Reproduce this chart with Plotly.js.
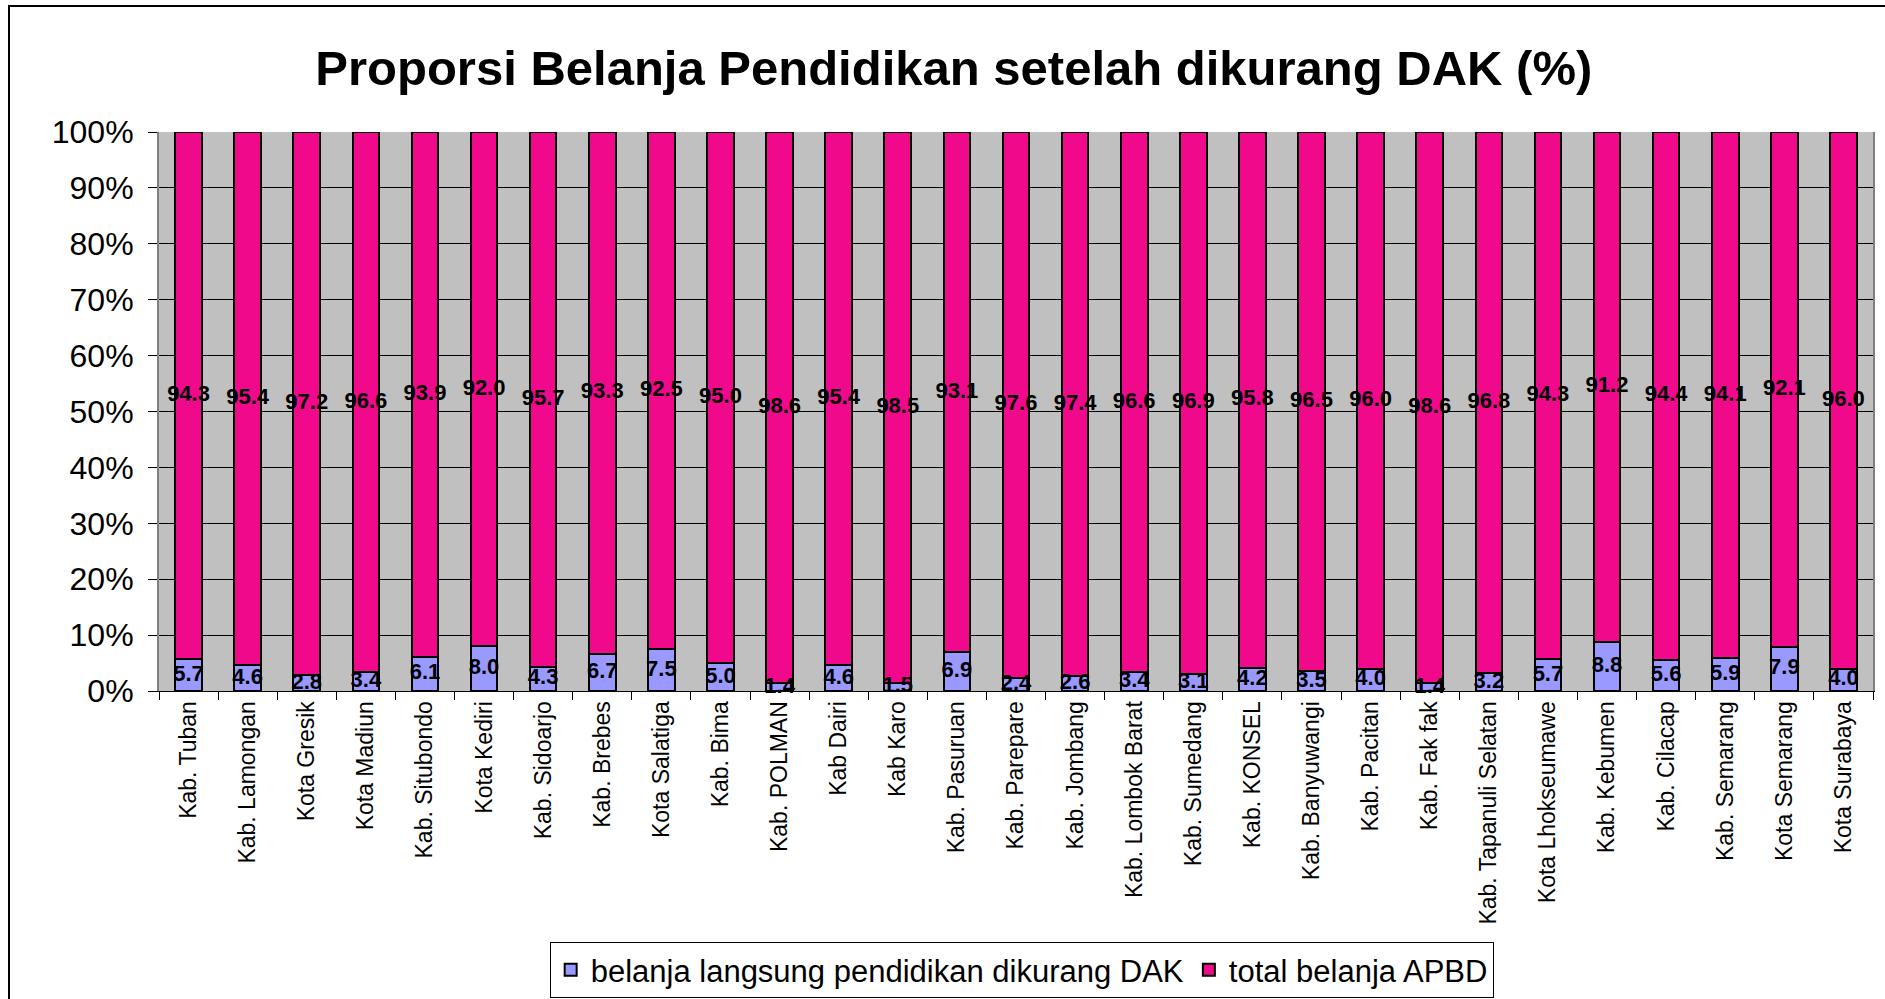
<!DOCTYPE html>
<html>
<head>
<meta charset="utf-8">
<script src="https://cdn.plot.ly/plotly-3.0.1.min.js"></script>
<style>
  html, body { margin: 0; padding: 0; background: #ffffff; overflow: hidden; }
  #chart { width: 1885px; height: 999px; }
  #frame { position: absolute; left: 8px; top: 5px; width: 3000px; height: 3000px;
           border-left: 2px solid #000; border-top: 2px solid #000; pointer-events: none; }
</style>
</head>
<body>
<div id="chart"></div>
<div id="frame"></div>
<script>
const categories = [
  "Kab. Tuban", "Kab. Lamongan", "Kota Gresik", "Kota Madiun", "Kab. Situbondo",
  "Kota Kediri", "Kab. Sidoarjo", "Kab. Brebes", "Kota Salatiga", "Kab. Bima",
  "Kab. POLMAN", "Kab Dairi", "Kab Karo", "Kab. Pasuruan", "Kab. Parepare",
  "Kab. Jombang", "Kab. Lombok Barat", "Kab. Sumedang", "Kab. KONSEL", "Kab. Banyuwangi",
  "Kab. Pacitan", "Kab. Fak fak", "Kab. Tapanuli Selatan", "Kota Lhokseumawe", "Kab. Kebumen",
  "Kab. Cilacap", "Kab. Semarang", "Kota Semarang", "Kota Surabaya"
];
const belanjaLangsung = [
  5.7, 4.6, 2.8, 3.4, 6.1, 8.0, 4.3, 6.7, 7.5, 5.0,
  1.4, 4.6, 1.5, 6.9, 2.4, 2.6, 3.4, 3.1, 4.2, 3.5,
  4.0, 1.4, 3.2, 5.7, 8.8, 5.6, 5.9, 7.9, 4.0
];
const totalBelanja = [
  94.3, 95.4, 97.2, 96.6, 93.9, 92.0, 95.7, 93.3, 92.5, 95.0,
  98.6, 95.4, 98.5, 93.1, 97.6, 97.4, 96.6, 96.9, 95.8, 96.5,
  96.0, 98.6, 96.8, 94.3, 91.2, 94.4, 94.1, 92.1, 96.0
];
const yTicks = [0, 10, 20, 30, 40, 50, 60, 70, 80, 90, 100];

const FONT = "Liberation Sans, Arial, sans-serif";
const labelFont = { family: FONT, size: 22, color: "#000000", weight: "bold" };

const traces = [
  {
    type: "bar",
    name: "belanja langsung pendidikan dikurang DAK",
    x: categories,
    y: belanjaLangsung,
    marker: { color: "#9999FF", line: { color: "#000000", width: 2 } },
    textposition: "none",
    hoverinfo: "x+y"
  },
  {
    type: "bar",
    name: "total belanja APBD",
    x: categories,
    y: totalBelanja,
    marker: { color: "#F0098A", line: { color: "#000000", width: 2 } },
    textposition: "none",
    hoverinfo: "x+y"
  },
  {
    type: "scatter",
    mode: "text",
    x: categories,
    y: belanjaLangsung.map(v => v / 2),
    text: belanjaLangsung.map(v => v.toFixed(1)),
    textposition: "middle center",
    textfont: labelFont,
    cliponaxis: false,
    showlegend: false,
    hoverinfo: "skip"
  },
  {
    type: "scatter",
    mode: "text",
    x: categories,
    y: totalBelanja.map((v, i) => belanjaLangsung[i] + v / 2),
    text: totalBelanja.map(v => v.toFixed(1)),
    textposition: "middle center",
    textfont: labelFont,
    cliponaxis: false,
    showlegend: false,
    hoverinfo: "skip"
  }
];

const layout = {
  width: 1885,
  height: 999,
  margin: { l: 159, r: 12, t: 132, b: 308 },
  paper_bgcolor: "#ffffff",
  plot_bgcolor: "#C0C0C0",
  barmode: "stack",
  bargap: 0.55,
  font: { family: FONT, color: "#000000" },
  title: {
    text: "Proporsi Belanja Pendidikan setelah dikurang DAK (%)",
    font: { family: FONT, size: 49, color: "#000000", weight: "bold" },
    x: 0.506, xref: "container", xanchor: "center",
    y: 0.932, yref: "container", yanchor: "middle"
  },
  xaxis: {
    type: "category",
    range: [-0.5, categories.length - 0.5],
    autorange: false,
    automargin: false,
    tickangle: -90,
    tickfont: { family: FONT, size: 23, color: "#000000" },
    ticks: "outside",
    tickson: "boundaries",
    ticklen: 8,
    ticklabelstandoff: 0,
    tickcolor: "#000000",
    showline: true,
    linecolor: "#000000",
    linewidth: 1,
    showgrid: false,
    zeroline: false,
    fixedrange: true
  },
  yaxis: {
    range: [0, 100],
    autorange: false,
    automargin: false,
    tickvals: yTicks,
    ticktext: yTicks.map(v => v + "%"),
    tickfont: { family: FONT, size: 32, color: "#000000" },
    ticks: "outside",
    ticklen: 9,
    ticklabelstandoff: 8,
    tickcolor: "#000000",
    showline: true,
    linecolor: "#808080",
    linewidth: 2,
    mirror: true,
    showgrid: true,
    gridcolor: "#000000",
    gridwidth: 1,
    zeroline: false,
    fixedrange: true
  },
  showlegend: true,
  legend: {
    orientation: "h",
    xref: "container", yref: "container",
    x: 0.542, xanchor: "center",
    y: 0.057, yanchor: "top",
    bgcolor: "#ffffff",
    bordercolor: "#000000",
    borderwidth: 1,
    font: { family: FONT, size: 31, color: "#000000" },
    traceorder: "normal"
  }
};

Plotly.newPlot("chart", traces, layout, { displayModeBar: false, responsive: false });
</script>
</body>
</html>
